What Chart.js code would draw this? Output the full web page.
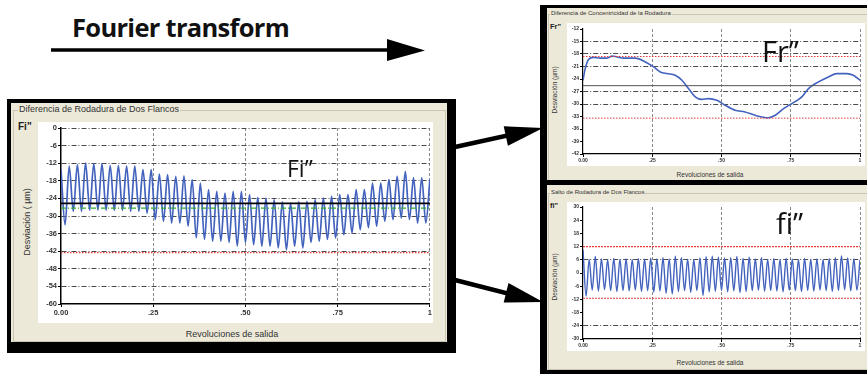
<!DOCTYPE html>
<html>
<head>
<meta charset="utf-8">
<script src="https://cdn.jsdelivr.net/npm/chart.js@4.4.1/dist/chart.umd.min.js"></script>
<style>
  body { margin: 0; width: 867px; height: 374px; background: #fff; position: relative; overflow: hidden; font-family: "Liberation Sans", Arial, sans-serif; }
  .abs { position: absolute; }
  .frame { background: #000; }
  .panel { background: #ece9d8; }
  .plot { background: #fff; }
  .group { border: 1px solid #c9c5b2; }
  .gtitle { background: #ece9d8; color: #333; white-space: nowrap; padding: 0 1px; }
  .tag { font-weight: bold; color: #222; white-space: nowrap; }
  .axt { color: #333; white-space: nowrap; transform: translate(-50%, -50%); }
  .rot { transform: translate(-50%, -50%) rotate(-90deg); }
  .big { font-family: "Open Sans", "Liberation Sans", sans-serif; color: #111; white-space: nowrap; }
</style>
</head>
<body>

<!-- texto y flecha de arriba -->
<div class="abs" style="left:72px; top:10px; font-family:'Open Sans',sans-serif; font-weight:700; font-size:25.5px; letter-spacing:-0.7px; color:#111;">Fourier transform</div>
<svg class="abs" style="left:0; top:0;" width="867" height="374">
  <line x1="51" y1="50" x2="392" y2="50" stroke="#000" stroke-width="3.5"/>
  <polygon points="387,39 425,50.5 387,61" fill="#000"/>
  <line x1="455" y1="147" x2="510" y2="135" stroke="#000" stroke-width="4.5"/>
  <polygon points="543,128 507.9,145.8 503.7,126.2" fill="#000"/>
  <line x1="455" y1="280" x2="510" y2="294" stroke="#000" stroke-width="4.5"/>
  <polygon points="543,302 503.7,302.5 508.5,283.1" fill="#000"/>
</svg>

<!-- panel izquierdo -->
<div class="abs frame" style="left:7px; top:99px; width:449px; height:254px;"></div>
<div class="abs panel" style="left:11px; top:103px; width:436px; height:239px;"></div>
<div class="abs group" style="left:13px; top:110px; width:431px; height:230px;"></div>
<div class="abs gtitle" style="left:18px; top:104px; font-size:9px;">Diferencia de Rodadura de Dos Flancos</div>
<div class="abs tag" style="left:18px; top:121px; font-size:10px;">Fi"</div>
<div class="abs plot" style="left:38px; top:122px; width:395px; height:201px;"></div>
<canvas id="mainChart" class="abs" style="left:38px; top:122px;" width="395" height="201"></canvas>
<div class="abs axt rot" style="left:27px; top:222px; font-size:9px;">Desviación ( µm)</div>
<div class="abs axt" style="left:232px; top:334px; font-size:9px;">Revoluciones de salida</div>
<div class="abs big" style="left:287px; top:152px; font-size:23px;">Fi”</div>

<!-- panel arriba derecha -->
<div class="abs frame" style="left:540px; top:5px; width:327px; height:180px;"></div>
<div class="abs panel" style="left:547px; top:8px; width:320px; height:173px;"></div>
<div class="abs group" style="left:548px; top:14px; width:325px; height:165px;"></div>
<div class="abs gtitle" style="left:550px; top:10px; font-size:6px;">Diferencia de Concentricidad de la Rodadura</div>
<div class="abs tag" style="left:550px; top:22px; font-size:7.5px;">Fr"</div>
<div class="abs plot" style="left:567px; top:23px; width:298px; height:143px;"></div>
<canvas id="frChart" class="abs" style="left:567px; top:23px;" width="298" height="143"></canvas>
<div class="abs axt rot" style="left:554px; top:90px; font-size:6.5px;">Desviación (µm)</div>
<div class="abs axt" style="left:710px; top:174px; font-size:6.5px;">Revoluciones de salida</div>
<div class="abs big" style="left:762px; top:31px; font-size:29px;">Fr”</div>

<!-- panel abajo derecha -->
<div class="abs frame" style="left:540px; top:180px; width:327px; height:194px;"></div>
<div class="abs panel" style="left:547px; top:185px; width:320px; height:185px;"></div>
<div class="abs group" style="left:548px; top:193px; width:325px; height:175px;"></div>
<div class="abs gtitle" style="left:550px; top:189px; font-size:6px;">Salto de Rodadura de Dos Flancos</div>
<div class="abs tag" style="left:550px; top:201px; font-size:7.5px;">fi"</div>
<div class="abs plot" style="left:567px; top:202px; width:298px; height:149px;"></div>
<canvas id="fiChart" class="abs" style="left:567px; top:202px;" width="298" height="149"></canvas>
<div class="abs axt rot" style="left:554px; top:277px; font-size:6.5px;">Desviación (µm)</div>
<div class="abs axt" style="left:710px; top:362px; font-size:6.5px;">Revoluciones de salida</div>
<div class="abs big" style="left:776px; top:203px; font-size:29px;">fi”</div>

<script>
// Etiquetas del eje X (revoluciones)
const xTickLabels = ['0.00', '.25', '.50', '.75', '1'];

// Fi'': picos y valles de cada diente (µm)
const mainPeaks = [-14.2, -13, -12.5, -12, -12.2, -12.2, -12.8, -12.8, -13, -13, -14.2, -14.2, -15.7, -15.9, -16.5, -16.3,
  -17.6, -18.8, -21, -21.6, -22.2, -21.6, -21.6, -22.7, -23.6, -23.9, -24.4, -25.2, -25.6, -25.2, -25, -24.4,
  -23.9, -23.3, -22.7, -22.7, -21, -21, -18.8, -18.8, -17.6, -16.5, -14.8, -17, -17, -17.6];
const mainTroughs = [-33, -28.4, -28.4, -28, -28, -28, -28, -28, -28.4, -28.4, -29, -31.2, -31.8, -32.4, -32.4,
  -33.5, -37.5, -38, -38.6, -38.6, -39, -40.3, -39, -39.8, -40.3, -40.3, -40.9, -41.5, -40.3, -40.9,
  -39, -38.6, -38, -37.5, -36.4, -35.8, -34.7, -34, -33.5, -31.8, -31.2, -30.7, -31.2, -32.4, -32.4];
const mainMeanLine = -25.7;
const mainGreenLine = -27.3;
const mainLimitLine = -42.5;
const mainYTicks = [0, -6, -12, -18, -24, -30, -36, -42, -48, -54, -60];

// Fr'': excentricidad (curva suave)
const frX = [0, .008, .02, .038, .0625, .087, .105, .123, .147, .189, .225, .255, .279, .303, .333, .357, .381, .405,
  .429, .453, .483, .513, .549, .585, .621, .669, .694, .724, .754, .79, .814, .85, .886, .916, .952, .976, 1];
const frY = [-24.3, -21.5, -19.3, -18.8, -19, -19, -18.5, -18.7, -19, -19, -19.9, -21.1, -22.3, -22.7, -23.1, -24.3, -26.3, -28.3,
  -28.9, -28.7, -29.1, -30.3, -31.5, -31.9, -32.7, -33.3, -32.7, -31.1, -29.9, -28.3, -26.3, -24.7, -23.5, -22.7, -22.7, -23.1, -24.3];
const frMeanLine = -25.6;
const frLimitLines = [-18.6, -33.4];
const frYTicks = [-12, -15, -18, -21, -24, -27, -30, -33, -36, -39, -42];
const frGridShown = [-15, -18, -21, -27, -30];

// fi'': salto diente a diente
const fiPeaks = [10.5, 6.2, 7.5, 6.4, 6.0, 6.6, 6.2, 6.4, 6.0, 6.5, 6.3, 6.7, 6.4, 7.0, 6.4, 7.6, 6.9, 6.3, 6.0, 6.8, 7.4, 7.6, 7.2,
  6.8, 7.0, 7.5, 6.6, 7.2, 6.4, 6.9, 6.2, 6.5, 6.1, 6.6, 6.3, 6.0, 6.6, 6.2, 6.4, 6.0, 6.5, 7.0, 7.8, 6.8, 6.4, 6.0];
const fiTroughs = [-10.5, -7.8, -8.2, -7.6, -8.0, -8.4, -7.9, -8.1, -7.7, -8.3, -8.0, -8.6, -8.2, -9.2, -9.5, -8.4, -8.0, -8.8,
  -7.9, -10.2, -8.6, -8.3, -7.9, -8.5, -8.1, -8.9, -8.4, -8.0, -7.8, -8.3, -7.9, -8.2, -8.5, -7.8, -8.0, -8.4, -7.9, -8.2,
  -7.7, -8.0, -8.3, -7.9, -7.6, -8.1, -7.8];
const fiLimitLines = [12, -11.5];
const fiYTicks = [30, 24, 18, 12, 6, 0, -6, -12, -18, -24, -30];
const fiGridShown = [6, -24];

const blue = '#4262bd';

// pico, valle, pico ... repartidos en una vuelta
function wavePoints(peaks, troughs) {
  const pts = [];
  const n = troughs.length * 2;
  for (let k = 0; k <= n; k++) {
    const v = (k % 2 === 0) ? peaks[k / 2] : troughs[(k - 1) / 2];
    pts.push({ x: k / n, y: v });
  }
  return pts;
}

function hLine(v, color, width, dash) {
  return { data: [{ x: 0, y: v }, { x: 1, y: v }], borderColor: color, borderWidth: width, borderDash: dash, pointRadius: 0, tension: 0 };
}

function makeChart(id, cfg) {
  const yTicks = cfg.yTicks;
  new Chart(document.getElementById(id), {
    type: 'line',
    data: { datasets: cfg.datasets },
    options: {
      responsive: false,
      animation: false,
      devicePixelRatio: 1,
      layout: { padding: { top: cfg.padTop, right: cfg.padRight, left: 0, bottom: 0 } },
      plugins: { legend: { display: false }, tooltip: { enabled: false } },
      scales: {
        x: {
          type: 'linear', min: 0, max: 1,
          afterBuildTicks: function(scale) { scale.ticks = [0, .25, .5, .75, 1].map(v => ({ value: v })); },
          afterFit: function(scale) { scale.height = cfg.xHeight; },
          ticks: {
            font: { size: cfg.fontSize, family: 'Liberation Sans', weight: 'bold' }, color: '#333', padding: 1,
            maxRotation: 0, autoSkip: false,
            callback: function(v, i) { return xTickLabels[i]; }
          },
          grid: {
            color: function(c) { return c.tick && c.tick.value > 0 ? '#8a8a8a' : 'rgba(0,0,0,0)'; },
            tickColor: '#000', tickLength: 3, lineWidth: 1
          },
          // en v4 el trazo de las lineas de rejilla va en border.dash
          border: { color: '#000', width: cfg.axisWidth, dash: [3, 2] }
        },
        y: {
          type: 'linear', min: yTicks[yTicks.length - 1], max: yTicks[0],
          afterBuildTicks: function(scale) { scale.ticks = yTicks.map(v => ({ value: v })); },
          afterFit: function(scale) { scale.width = cfg.yWidth; },
          ticks: {
            font: { size: cfg.fontSize, family: 'Liberation Sans', weight: 'bold' }, color: '#333', padding: 1,
            autoSkip: false,
            callback: function(v) { return String(v); }
          },
          grid: {
            color: function(c) {
              if (!c.tick) return 'rgba(0,0,0,0)';
              if (c.tick.value === yTicks[yTicks.length - 1]) return 'rgba(0,0,0,0)';
              if (cfg.gridShown && cfg.gridShown.indexOf(c.tick.value) < 0) return 'rgba(0,0,0,0)';
              return '#4a4a4a';
            },
            tickColor: '#000', tickLength: 3, lineWidth: 1
          },
          border: { color: '#000', width: cfg.axisWidth, dash: [5, 2, 1, 2] }
        }
      }
    }
  });
}

makeChart('mainChart', {
  yTicks: mainYTicks, padTop: 6, padRight: 3, xHeight: 19, yWidth: 23, fontSize: 7.5, axisWidth: 1.5,
  datasets: [
    hLine(mainMeanLine, '#000', 1.6, []),
    hLine(mainGreenLine, '#2fae2f', 1.3, [5, 2, 1, 2]),
    hLine(mainLimitLine, '#e53a3a', 1.2, [1.5, 1.5]),
    { data: wavePoints(mainPeaks, mainTroughs), borderColor: blue, borderWidth: 1.7, pointRadius: 0, cubicInterpolationMode: 'monotone' }
  ]
});

makeChart('frChart', {
  yTicks: frYTicks, padTop: 6, padRight: 5, xHeight: 12, yWidth: 16, fontSize: 5, axisWidth: 1.2, gridShown: frGridShown,
  datasets: [
    hLine(frMeanLine, '#555', 1, []),
    hLine(frLimitLines[0], '#e53a3a', 1, [1.5, 1.5]),
    hLine(frLimitLines[1], '#e53a3a', 1, [1.5, 1.5]),
    { data: frX.map((x, i) => ({ x: x, y: frY[i] })), borderColor: blue, borderWidth: 1.6, pointRadius: 0, cubicInterpolationMode: 'monotone' }
  ]
});

makeChart('fiChart', {
  yTicks: fiYTicks, padTop: 5, padRight: 5, xHeight: 12, yWidth: 16, fontSize: 5, axisWidth: 1.2, gridShown: fiGridShown,
  datasets: [
    hLine(fiLimitLines[0], '#e53a3a', 1.1, [2, 1]),
    hLine(fiLimitLines[1], '#e53a3a', 1.1, [2, 1]),
    { data: wavePoints(fiPeaks, fiTroughs), borderColor: blue, borderWidth: 1.4, pointRadius: 0, cubicInterpolationMode: 'monotone' }
  ]
});
</script>
</body>
</html>
